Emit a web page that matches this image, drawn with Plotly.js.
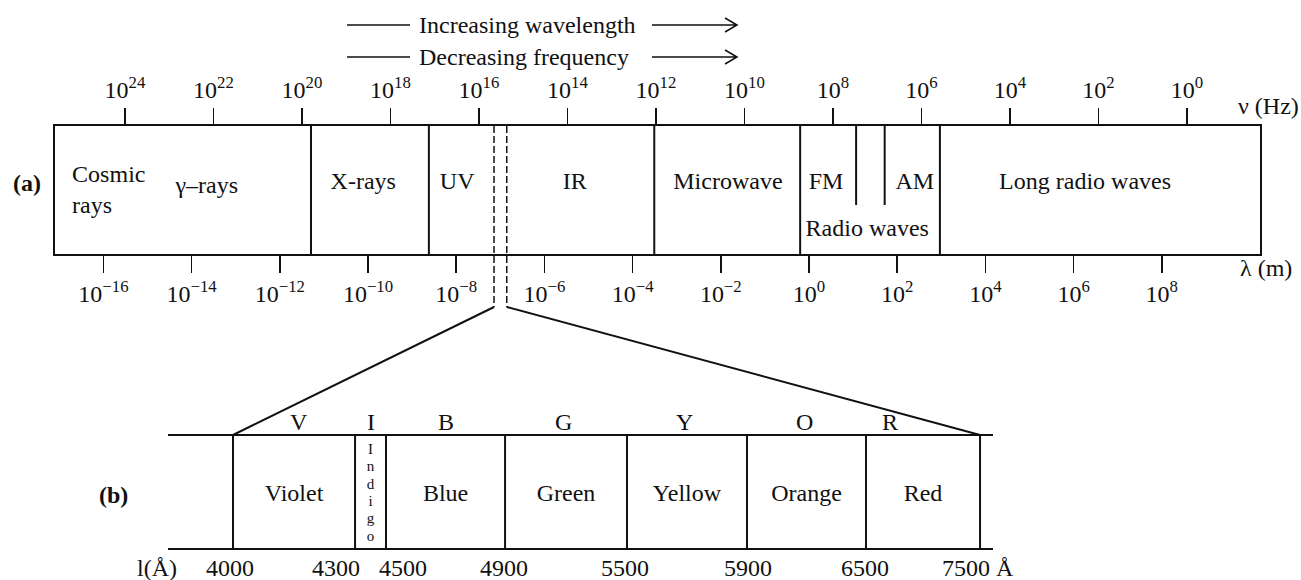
<!DOCTYPE html>
<html><head><meta charset="utf-8">
<script src="https://cdn.plot.ly/plotly-3.0.1.min.js"></script>
<style>html,body{margin:0;padding:0;background:#fff}#chart{width:1301px;height:580px}</style>
</head><body><div id="chart"></div>
<script>
// ================= DATA =================
// (a) axis ticks: exponents of wavelength (m, bottom) and frequency (Hz, top)
const lambdaTickExps = [-16, -14, -12, -10, -8, -6, -4, -2, 0, 2, 4, 6, 8];
const freqTickExps   = [24, 22, 20, 18, 16, 14, 12, 10, 8, 6, 4, 2, 0];
// region boundaries on the wavelength scale (m)
const regionBoundaries = [5.1e-12, 2.4e-9, 3.1e-4, 0.63, 930];
const fmAmDividers     = [11.7, 52];
const visibleWindow    = [7.2e-8, 1.4e-7];
// region labels and the wavelength (m) they sit at
const regionLabels      = ['γ–rays', 'X-rays', 'UV', 'IR', 'Microwave', 'FM', 'AM', 'Long radio waves'];
const regionLabelLambda = [2.2e-14, 7.8e-11, 1.05e-8, 4.9e-6, 1.45e-2, 2.43, 251, 1.82e6];
const cosmicLabel = 'Cosmic<br>rays', cosmicLambda = 1.95e-17;
const radioLabel  = 'Radio waves',    radioLambda  = 20.9;

// (b) visible band edges (Å), colour names and initials
const visEdgesA  = [4000, 4300, 4500, 4900, 5500, 5900, 6500, 7500];
const visColours = ['Violet', 'Indigo', 'Blue', 'Green', 'Yellow', 'Orange', 'Red'];
const visLetters = ['V', 'I', 'B', 'G', 'Y', 'O', 'R'];

// ================= LAYOUT =================
const W = 1301, H = 580;
const FONT = 'Liberation Serif, Times New Roman, serif';
const FS = 24;
const BLACK = '#111';
const P = x => x / W, Q = y => 1 - y / H;
// schematic (non-linear) slot positions of the band edges in panel (b)
const edgeSlot = [0, 1.017, 1.275, 2.267, 3.283, 4.283, 5.275, 6.225];
const bLineExtent = [-0.542, 6.333];
const labelY = [0.523, 0.555, 0.555, 0.555, 0.555, 0.555, 0.555, 0.555];
const edgeLabelShift = [-3, -19, 17, -1, -2, 1, -1, -40];
const letterShift = [5, 0, 0, -3, -2, -2, -33];

const supText = e => '10<sup>' + String(e).replace('-', '−') + '</sup>';

const traces = [];
// region dividers
const dx = [], dy = [];
regionBoundaries.forEach(b => { dx.push(b, b, null); dy.push(0, 1, null); });
traces.push({x: dx, y: dy, mode: 'lines', line: {color: BLACK, width: 2}, xaxis: 'x', yaxis: 'y'});
const fx = [], fy = [];
fmAmDividers.forEach(b => { fx.push(b, b, null); fy.push(0.383, 1, null); });
traces.push({x: fx, y: fy, mode: 'lines', line: {color: BLACK, width: 2}, xaxis: 'x', yaxis: 'y'});
// region labels
traces.push({x: regionLabelLambda, y: labelY, text: regionLabels, mode: 'text',
  textfont: {family: FONT, size: FS, color: BLACK}, xaxis: 'x', yaxis: 'y'});
traces.push({x: [cosmicLambda], y: [0.488], text: [cosmicLabel], mode: 'text', textposition: 'middle right',
  textfont: {family: FONT, size: FS, color: BLACK}, xaxis: 'x', yaxis: 'y'});
traces.push({x: [radioLambda], y: [0.19], text: [radioLabel], mode: 'text',
  textfont: {family: FONT, size: FS, color: BLACK}, xaxis: 'x', yaxis: 'y'});
// keeps the frequency axis alive
traces.push({x: [1e10], y: [-5], mode: 'markers', marker: {opacity: 0}, xaxis: 'x2', yaxis: 'y'});

// panel (b)
traces.push({x: [bLineExtent[0], bLineExtent[1], null, bLineExtent[0], bLineExtent[1]], y: [1, 1, null, 0, 0],
  mode: 'lines', line: {color: BLACK, width: 2}, xaxis: 'x3', yaxis: 'y3'});
const ex = [], ey = [];
edgeSlot.forEach(s => { ex.push(s, s, null); ey.push(0, 1, null); });
traces.push({x: ex, y: ey, mode: 'lines', line: {color: BLACK, width: 2}, xaxis: 'x3', yaxis: 'y3'});
const centres = visColours.map((c, i) => (edgeSlot[i] + edgeSlot[i + 1]) / 2);
const nameIdx = visColours.map((c, i) => i).filter(i => visColours[i] !== 'Indigo');
traces.push({x: nameIdx.map(i => centres[i]), y: nameIdx.map(() => 0.474), text: nameIdx.map(i => visColours[i]),
  mode: 'text', textfont: {family: FONT, size: FS, color: BLACK}, xaxis: 'x3', yaxis: 'y3'});
const indigoChars = visColours[1].split('');
traces.push({x: indigoChars.map(() => centres[1]), y: indigoChars.map((c, k) => 0.868 - k * 0.1526),
  text: indigoChars, mode: 'text', textfont: {family: FONT, size: 15, color: BLACK}, xaxis: 'x3', yaxis: 'y3'});

const ann = [];
const txt = (text, x, y, opts) => Object.assign({text, x, y, xref: 'paper', yref: 'paper', showarrow: false,
  xanchor: 'center', yanchor: 'middle', font: {family: FONT, size: FS, color: BLACK}}, opts || {});
ann.push(txt('<b>(a)</b>', P(27), Q(183)));
ann.push(txt('<b>(b)</b>', P(113), Q(495)));
ann.push(txt('Increasing wavelength', P(417), Q(25), {xanchor: 'left'}));
ann.push(txt('Decreasing frequency', P(417), Q(57), {xanchor: 'left'}));
ann.push(txt('ν (Hz)', P(1268), Q(106)));
ann.push(txt('λ (m)', P(1266), Q(268)));
ann.push(txt('l(Å)', P(157), Q(568)));
visEdgesA.forEach((a, i) => {
  const last = i === visEdgesA.length - 1;
  ann.push({text: last ? a + ' Å' : String(a), x: edgeSlot[i], y: 0, xref: 'x3', yref: 'y3',
    yshift: -19, xshift: edgeLabelShift[i], showarrow: false, xanchor: last ? 'left' : 'center', yanchor: 'middle',
    font: {family: FONT, size: FS, color: BLACK}});
});
visLetters.forEach((l, i) => ann.push({text: l, x: centres[i], y: 1, xref: 'x3', yref: 'y3', yshift: 13,
  xshift: letterShift[i], showarrow: false, xanchor: 'center', yanchor: 'middle',
  font: {family: FONT, size: FS, color: BLACK}}));

const shapes = [];
[25, 57].forEach(y => {
  shapes.push({type: 'line', xref: 'paper', yref: 'paper', x0: P(347), x1: P(410), y0: Q(y), y1: Q(y),
    line: {color: BLACK, width: 1.5}});
  shapes.push({type: 'path', xref: 'paper', yref: 'paper',
    path: `M ${P(652)} ${Q(y)} L ${P(737)} ${Q(y)} M ${P(725)} ${Q(y - 7)} L ${P(737)} ${Q(y)} L ${P(725)} ${Q(y + 7)}`,
    line: {color: BLACK, width: 1.5}});
});

const axCommon = {showgrid: false, zeroline: false, fixedrange: true, color: BLACK,
  tickfont: {family: FONT, size: FS, color: BLACK}};
const layout = {
  width: W, height: H, margin: {l: 0, r: 0, t: 0, b: 0},
  paper_bgcolor: '#fff', plot_bgcolor: '#fff', showlegend: false, hovermode: false,
  xaxis: Object.assign({}, axCommon, {type: 'log', domain: [P(55), P(1260)], range: [-17.098, 10.227],
    anchor: 'y', side: 'bottom', showline: true, linecolor: BLACK, linewidth: 2,
    ticks: 'outside', ticklen: 17, tickwidth: 1.5, tickcolor: BLACK,
    tickvals: lambdaTickExps.map(e => Math.pow(10, e)), ticktext: lambdaTickExps.map(supText)}),
  xaxis2: Object.assign({}, axCommon, {type: 'log', overlaying: 'x', anchor: 'y', side: 'top',
    range: [25.582, -1.650], showline: true, linecolor: BLACK, linewidth: 2,
    ticks: 'outside', ticklen: 16, tickwidth: 1.5, tickcolor: BLACK,
    tickvals: freqTickExps.map(e => Math.pow(10, e)), ticktext: freqTickExps.map(supText)}),
  yaxis: Object.assign({}, axCommon, {domain: [Q(254), Q(126)], range: [0, 1], showline: true, mirror: true,
    linecolor: BLACK, linewidth: 2, ticks: '', showticklabels: false}),
  xaxis3: Object.assign({}, axCommon, {domain: [P(165), P(996)], range: [-0.5667, 6.358], anchor: 'y3',
    showline: false, ticks: '', showticklabels: false}),
  yaxis3: Object.assign({}, axCommon, {domain: [Q(554), Q(430)], range: [-0.0439, 1.0439], anchor: 'x3',
    showline: false, ticks: '', showticklabels: false}),
  annotations: ann,
  shapes: shapes
};

const gd = document.getElementById('chart');
Plotly.newPlot(gd, traces, layout, {staticPlot: true, displayModeBar: false}).then(function () {
  const fl = gd._fullLayout;
  const px = (ax, v) => ax._offset + ax.l2p(ax.type === 'log' ? Math.log10(v) : v);
  const xa = fl.xaxis, ya = fl.yaxis, xa3 = fl.xaxis3, ya3 = fl.yaxis3;
  const stemTop = px(ya, 1), stemBottom = px(ya, -0.414), bTop = px(ya3, 1);
  const extra = [];
  visibleWindow.forEach(v => {
    const x = px(xa, v);
    extra.push({type: 'line', xref: 'paper', yref: 'paper', x0: x / W, x1: x / W,
      y0: 1 - stemTop / H, y1: 1 - stemBottom / H, line: {color: BLACK, width: 1.5, dash: '7px,3px'}});
  });
  const ends = [px(xa3, edgeSlot[0]), px(xa3, edgeSlot[edgeSlot.length - 1])];
  visibleWindow.forEach((v, i) => {
    extra.push({type: 'line', xref: 'paper', yref: 'paper', x0: px(xa, v) / W, y0: 1 - stemBottom / H,
      x1: ends[i] / W, y1: 1 - bTop / H, line: {color: BLACK, width: 2}});
  });
  return Plotly.relayout(gd, {shapes: shapes.concat(extra)});
});
</script>
</body></html>
